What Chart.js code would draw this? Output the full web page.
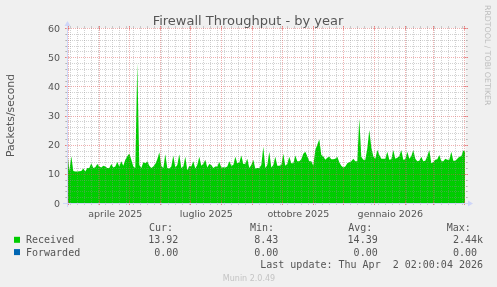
<!DOCTYPE html>
<html><head><meta charset="utf-8">
<script src="https://cdn.jsdelivr.net/npm/chart.js@4/dist/chart.umd.min.js"></script>
<style>html,body{margin:0;padding:0;background:#f0f0f0;overflow:hidden}#wrap{width:497px;height:287px;position:relative}</style>
</head><body><div id="wrap"><canvas id="c" width="497" height="287"></canvas></div>
<script>
// ---------- data ----------
const chartTitle = "Firewall Throughput - by year";
const yAxisTitle = "Packets/second";
const watermark = "RRDTOOL / TOBI OETIKER";
const footer = "Munin 2.0.49";
const lastUpdate = "Last update: Thu Apr  2 02:00:04 2026";
// sample days counted from 2025-03-01 (day 0); one sample every 2 days
const firstSampleDay = -1;
const sampleStepDays = 2;
const received = [
  18, 11, 16, 11, 10.8, 10.8, 10.9, 11, 11.8, 10.8,
  12, 12, 13.6, 12, 12.3, 13.4, 12.5, 12.2, 12.8, 12.5,
  12, 12, 13.4, 12.2, 12.5, 14.1, 12.5, 14.3, 12.8, 14.8,
  16, 17, 14.8, 12.5, 12, 48, 13, 12, 14, 13.6,
  14.3, 12.8, 12, 12.5, 13.4, 15, 17.4, 12.8, 12, 16.7,
  12, 11.8, 12.5, 16.3, 12.2, 13, 16.7, 12, 12.5, 15.9,
  11.2, 12.8, 12.5, 14.3, 11.8, 13, 15.9, 12.8, 13.5, 14.8,
  12.2, 13.4, 13, 12, 12.5, 12.5, 14.1, 12.2, 12.3, 12.2,
  12.5, 14.3, 12.8, 13, 15.9, 13.6, 13.8, 16.3, 13.4, 13.5,
  15.2, 12, 13, 14.8, 11.8, 12, 12, 13, 19.3, 12,
  13, 17.6, 12.2, 13, 15.9, 12.8, 12.8, 13, 16.9, 12.8,
  13.5, 15.9, 13.6, 13.6, 16.3, 14.3, 14.3, 15, 16.9, 17.6,
  16, 14.3, 14.3, 12.8, 18.2, 20, 21.9, 16.5, 16, 14.8,
  15.5, 15.9, 15, 15, 15.2, 15.9, 14, 12.8, 12.2, 12.5,
  13.6, 14, 14.3, 15.2, 14.3, 14.3, 29, 15.9, 14.8, 14.8,
  18.7, 25, 19, 16, 15.2, 18.2, 16.5, 15.2, 15.2, 15.2,
  17.6, 14.8, 15, 18.2, 15.2, 15.5, 16, 18.2, 14.8, 15,
  17.6, 15.2, 16, 18.2, 15.2, 14.3, 14.5, 15.9, 14.3, 14.5,
  16, 18.2, 13.6, 14, 14.8, 15, 16.5, 14.3, 14.3, 15.2,
  14.8, 14.8, 17.6, 14.5, 14.5, 15.2, 15.9, 16, 18, 17.6
];
const yTickValues = [0, 10, 20, 30, 40, 50, 60];
// first day of each month, Mar 2025 .. Apr 2026 (days from 2025-03-01)
const monthStartDays = [0, 31, 61, 92, 122, 153, 184, 214, 245, 275, 306, 337, 365, 396];
const xTickLabels = ["aprile 2025", "luglio 2025", "ottobre 2025", "gennaio 2026"];
const xTickLabelDays = [31, 122, 214, 306];
const legendHeaders = ["Cur:", "Min:", "Avg:", "Max:"];
const seriesNames = ["Received", "Forwarded"];
const seriesColors = ["#00cc00", "#0066b3"];
const curValues = ["13.92", "0.00"];
const minValues = ["8.43", "0.00"];
const avgValues = ["14.39", "0.00"];
const maxValues = ["2.44k", "0.00"];

// ---------- drawing ----------
const FONT = "'DejaVu Sans', sans-serif";
const MONO = "'DejaVu Sans Mono', monospace";
const TXT = "#555555";
const GRID = "rgba(143,143,143,0.4)";
const MGRID = "rgba(222,79,79,0.45)";
const AXIS = "#cfd6f8";

function lineH(ctx, x0, x1, yy) {
  ctx.beginPath(); ctx.moveTo(x0, yy + 0.5); ctx.lineTo(x1, yy + 0.5); ctx.stroke();
}
function lineV(ctx, xx, y0, y1) {
  ctx.beginPath(); ctx.moveTo(xx + 0.5, y0); ctx.lineTo(xx + 0.5, y1); ctx.stroke();
}

const rrdPlugin = {
  id: 'rrd',
  beforeDatasetsDraw(chart) {
    const {ctx, chartArea: a} = chart;
    ctx.save();
    ctx.fillStyle = '#ffffff';
    ctx.fillRect(a.left, a.top, a.right - a.left, a.bottom - a.top);
    ctx.restore();
  },
  afterDatasetsDraw(chart) {
    const {ctx, chartArea: a, scales} = chart;
    const xs = scales.x, ys = scales.y;
    const L = Math.round(a.left), R = Math.round(a.right), T = Math.round(a.top), B = Math.round(a.bottom);
    ctx.save();
    ctx.lineWidth = 1;
    // minor horizontal grid
    ctx.strokeStyle = GRID;
    for (let v = ys.min; v <= ys.max; v += 2) {
      if (v % 10 === 0) continue;
      const py = Math.round(ys.getPixelForValue(v));
      ctx.setLineDash([]);
      lineH(ctx, L - 2, L, py); lineH(ctx, R, R + 2, py);
      ctx.setLineDash([1, 1]);
      lineH(ctx, L - 1, R + 1, py);
    }
    // minor vertical grid (weeks, Mondays)
    for (let d = 2; d < xs.max; d += 7) {
      if (monthStartDays.includes(d)) continue;
      const px = Math.round(xs.getPixelForValue(d));
      ctx.setLineDash([]);
      lineV(ctx, px, B, B + 2); lineV(ctx, px, T - 2, T);
      ctx.setLineDash([1, 1]);
      lineV(ctx, px, T, B);
    }
    // major horizontal grid
    ctx.strokeStyle = MGRID;
    yTickValues.forEach(v => {
      const py = Math.round(ys.getPixelForValue(v));
      ctx.setLineDash([]);
      lineH(ctx, L - 2, L + 2, py); lineH(ctx, R - 2, R + 2, py);
      ctx.setLineDash([1, 1]);
      lineH(ctx, L - 2, R + 2, py);
    });
    // major vertical grid (months)
    monthStartDays.forEach(d => {
      if (d < xs.min || d > xs.max) return;
      const px = Math.round(xs.getPixelForValue(d));
      ctx.setLineDash([]);
      lineV(ctx, px, B - 2, B + 2); lineV(ctx, px, T - 2, T + 2);
      ctx.setLineDash([1, 1]);
      lineV(ctx, px, T - 2, B + 2);
    });
    ctx.setLineDash([]);
    // axes + arrows
    ctx.strokeStyle = AXIS; ctx.fillStyle = AXIS;
    ctx.beginPath(); ctx.moveTo(L - 4, B + 0.5); ctx.lineTo(R + 4, B + 0.5); ctx.stroke();
    ctx.beginPath(); ctx.moveTo(L + 0.5, B + 4); ctx.lineTo(L + 0.5, T - 4); ctx.stroke();
    ctx.beginPath(); ctx.moveTo(R + 2, B - 2.5); ctx.lineTo(R + 2, B + 3.5); ctx.lineTo(R + 7, B + 0.5); ctx.closePath(); ctx.fill();
    ctx.beginPath(); ctx.moveTo(L - 2.5, T - 2); ctx.lineTo(L + 3.5, T - 2); ctx.lineTo(L + 0.5, T - 7); ctx.closePath(); ctx.fill();

    // y tick labels
    ctx.fillStyle = TXT;
    ctx.font = "9.5px " + FONT;
    ctx.textAlign = 'right'; ctx.textBaseline = 'alphabetic';
    yTickValues.forEach(v => {
      const py = ys.getPixelForValue(v);
      ctx.fillText(String(v), L - 7, py + 3.6);
    });
    // x tick labels, centred mid-month
    ctx.textAlign = 'center';
    xTickLabels.forEach((t, i) => {
      const px = xs.getPixelForValue(xTickLabelDays[i] + 16);
      ctx.fillText(t, px, B + 13.5);
    });
    // title
    ctx.font = "13px " + FONT;
    ctx.fillText(chartTitle, 248, 24.5);
    // y axis title
    ctx.save();
    ctx.font = "10.8px " + FONT;
    ctx.translate(14, (T + B) / 2);
    ctx.rotate(-Math.PI / 2);
    ctx.textAlign = 'center';
    ctx.fillText(yAxisTitle, 0, 0);
    ctx.restore();
    // watermark
    ctx.save();
    ctx.fillStyle = "#bdbdbd";
    ctx.font = "7.8px " + FONT;
    ctx.translate(485, 5);
    ctx.rotate(Math.PI / 2);
    ctx.textAlign = 'left';
    ctx.fillText(watermark, 0, 0);
    ctx.restore();
    // legend
    ctx.font = "10px " + MONO;
    ctx.fillStyle = TXT;
    ctx.textAlign = 'left';
    const headerX = [149, 250, 348.3, 446.7];
    legendHeaders.forEach((h, i) => ctx.fillText(h, headerX[i], 231));
    const colEnd = [178.3, 278.3, 377.7, 477];
    const cols = [curValues, minValues, avgValues, maxValues];
    seriesNames.forEach((n, r) => {
      const yy = 243.3 + r * 12.3;
      ctx.fillStyle = seriesColors[r];
      ctx.fillRect(14, yy - 6.5, 6, 6);
      ctx.fillStyle = TXT;
      ctx.textAlign = 'left';
      ctx.fillText(n, 26, yy);
      cols.forEach((c, j) => {
        const s = c[r];
        const m = s.match(/^([\d.]+)(.*)$/);
        ctx.textAlign = 'right';
        ctx.fillText(m[1], colEnd[j], yy);
        ctx.textAlign = 'left';
        if (m[2]) ctx.fillText(m[2], colEnd[j], yy);
      });
    });
    ctx.textAlign = 'right';
    ctx.fillText(lastUpdate, 483, 267.9);
    // footer
    ctx.textAlign = 'center';
    ctx.font = "8px " + FONT;
    ctx.fillStyle = "#c4c4c4";
    ctx.fillText(footer, 249, 281);
    ctx.restore();
  }
};

const points = received.map((v, i) => ({x: firstSampleDay + i * sampleStepDays, y: v}));

new Chart(document.getElementById('c'), {
  type: 'line',
  data: {
    datasets: [{
      label: seriesNames[0],
      data: points,
      fill: 'origin',
      backgroundColor: seriesColors[0],
      borderColor: seriesColors[0],
      borderWidth: 0,
      pointRadius: 0,
      tension: 0
    }]
  },
  options: {
    responsive: false,
    animation: false,
    devicePixelRatio: 1,
    layout: {padding: {left: 67, top: 28, right: 31.5, bottom: 84}},
    scales: {
      x: {type: 'linear', min: -1.3, max: 397.2, display: false},
      y: {type: 'linear', min: 0, max: 60, display: false}
    },
    plugins: {legend: {display: false}, tooltip: {enabled: false}, title: {display: false}}
  },
  plugins: [rrdPlugin]
});
</script>
</body></html>
